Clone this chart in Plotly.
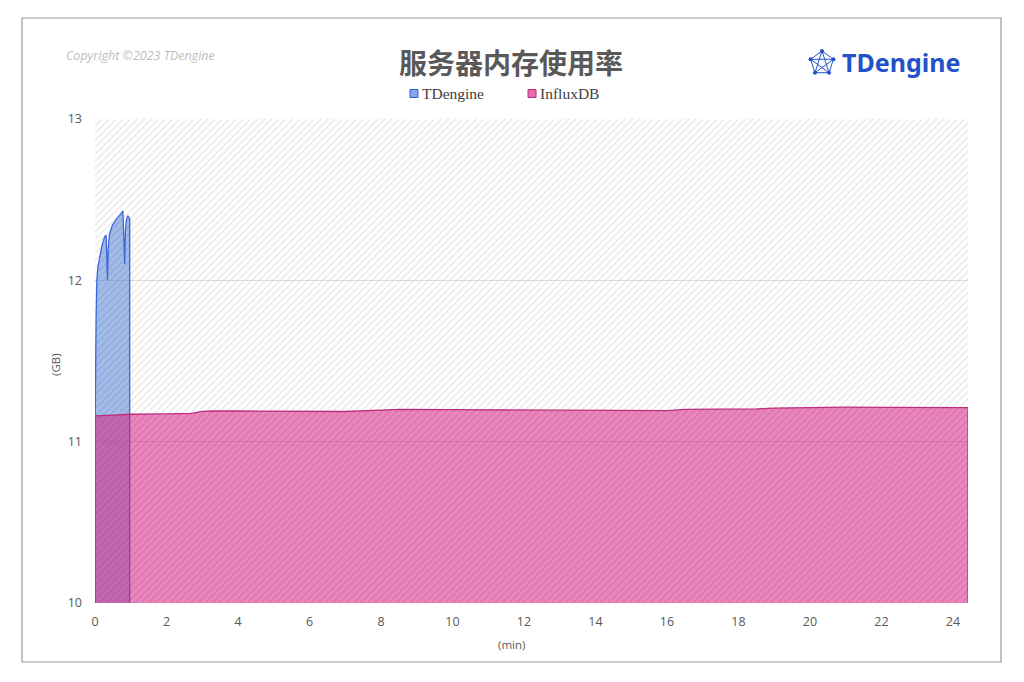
import math
import plotly.graph_objects as go

# ---------------- data ----------------
td_time = [0.00, 0.03, 0.05, 0.08, 0.14, 0.20, 0.27, 0.31, 0.33, 0.35, 0.37, 0.40,
           0.48, 0.60, 0.72, 0.78, 0.80, 0.83, 0.85, 0.88, 0.92, 0.95, 0.97]
td_mem = [11.00, 11.75, 12.00, 12.08, 12.15, 12.22, 12.27, 12.28, 12.15, 12.00, 12.20, 12.28,
          12.34, 12.38, 12.41, 12.43, 12.30, 12.10, 12.30, 12.38, 12.40, 12.39, 12.38]

ifx_time = [0.0, 0.5, 1.0, 2.0, 2.7, 3.0, 3.3, 4.0, 5.0, 6.0, 7.0, 8.0, 8.5, 10.0, 12.0,
            13.0, 14.0, 15.0, 15.5, 16.0, 16.5, 18.0, 18.5, 19.0, 20.0, 21.0, 22.0, 23.0, 24.42]
ifx_mem = [11.16, 11.165, 11.17, 11.172, 11.175, 11.188, 11.19, 11.19, 11.188, 11.185, 11.187,
           11.196, 11.20, 11.198, 11.195, 11.194, 11.195, 11.194, 11.19, 11.192, 11.20, 11.201,
           11.203, 11.208, 11.212, 11.214, 11.213, 11.212, 11.211]

x_ticks = [0, 2, 4, 6, 8, 10, 12, 14, 16, 18, 20, 22, 24]
y_ticks = [10, 11, 12, 13]
series_names = ["TDengine", "InfluxDB"]
title_text = "服务器内存使用率"
copyright_text = "Copyright ©2023 TDengine"

# ---------------- layout geometry ----------------
# page body has an 8px margin, so the figure is drawn 8px right/down
OFF = 8
W, H = 1024, 682
L, R, T, B = 95 - OFF, 968 - OFF, 119 - OFF, 603 - OFF
PW, PH = R - L, B - T
Y_MIN, Y_MAX = y_ticks[0], y_ticks[-1]
X_MAX = ifx_time[-1]


def xp(px):
    return (px - OFF - L) / PW


def yp(py):
    return (B - (py - OFF)) / PH


def closed(xs, ys, base):
    return [xs[0]] + list(xs) + [xs[-1]], [base] + list(ys) + [base]


fig = go.Figure()

# hatched plot background
fig.add_trace(go.Scatter(
    x=[0, X_MAX, X_MAX, 0, 0], y=[Y_MIN, Y_MIN, Y_MAX, Y_MAX, Y_MIN],
    mode="lines", line=dict(width=0), fill="toself",
    fillcolor="rgba(0,0,0,0)",
    fillpattern=dict(shape="/", fgcolor="#cdcdcd", bgcolor="rgba(255,255,255,0)",
                     size=5, solidity=0.25),
    hoverinfo="skip", showlegend=False))

tx, ty = closed(td_time, td_mem, Y_MIN)
fig.add_trace(go.Scatter(
    x=tx, y=ty, name=series_names[0], mode="lines",
    line=dict(color="rgb(60,105,215)", width=1.3),
    fill="toself", fillcolor="rgba(97,138,213,0.6)",
    fillpattern=dict(shape="/", fgcolor="rgba(70,110,200,0.3)", bgcolor="rgba(97,138,213,0.58)",
                     size=5, solidity=0.2),
    showlegend=False))

ix, iy = closed(ifx_time, ifx_mem, Y_MIN)
fig.add_trace(go.Scatter(
    x=ix, y=iy, name=series_names[1], mode="lines",
    line=dict(color="rgb(190,45,125)", width=1.3),
    fill="toself", fillcolor="rgba(213,30,127,0.55)",
    fillpattern=dict(shape="/", fgcolor="rgba(190,30,115,0.25)", bgcolor="rgba(215,35,130,0.55)",
                     size=5, solidity=0.2),
    showlegend=False))

tick_font = dict(family="Open Sans, Liberation Sans, sans-serif", size=12.5, color="#595959")

fig.update_layout(
    width=W, height=H,
    margin=dict(l=L, r=W - R, t=T, b=H - B, pad=0),
    paper_bgcolor="white", plot_bgcolor="white",
    showlegend=False,
    xaxis=dict(range=[0, X_MAX], tickvals=x_ticks, ticktext=[str(v) for v in x_ticks],
               showgrid=False, zeroline=False, showline=False, ticks="",
               tickfont=tick_font, ticklabelstandoff=9),
    yaxis=dict(range=[Y_MIN, Y_MAX], tickvals=y_ticks, ticktext=[str(v) for v in y_ticks],
               showgrid=True, gridcolor="#d9d9d9", gridwidth=1,
               zeroline=False, showline=False, ticks="",
               tickfont=tick_font, ticklabelstandoff=12),
)

shapes = []
# outer border
shapes.append(dict(type="rect", xref="paper", yref="paper",
                   x0=xp(22), x1=xp(1001), y0=yp(662), y1=yp(18),
                   line=dict(color="#9a9a9a", width=1.2), fillcolor="rgba(0,0,0,0)", layer="below"))

# legend squares
leg_colors = [("rgba(120,155,225,0.9)", "rgb(50,95,205)"), ("rgba(230,100,170,0.95)", "rgb(190,45,125)")]
leg_x = [410, 528]
for (fc, lc), lx in zip(leg_colors, leg_x):
    shapes.append(dict(type="rect", xref="paper", yref="paper",
                       x0=xp(lx), x1=xp(lx + 8), y0=yp(97.5), y1=yp(89.5),
                       line=dict(color=lc, width=1), fillcolor=fc))

# logo icon: pentagon network
cx, cy, rr = 822, 63, 12
verts = []
for k in range(5):
    a = math.radians(90 + 72 * k)
    verts.append((cx + rr * math.cos(a), cy - rr * math.sin(a)))
logo_blue = "#2352c8"
for i in range(5):
    for j in range(i + 1, 5):
        (x0, y0), (x1, y1) = verts[i], verts[j]
        shapes.append(dict(type="line", xref="paper", yref="paper",
                           x0=xp(x0), y0=yp(y0), x1=xp(x1), y1=yp(y1),
                           line=dict(color=logo_blue, width=1)))
for (vx, vy) in verts:
    shapes.append(dict(type="circle", xref="paper", yref="paper",
                       x0=xp(vx - 2), x1=xp(vx + 2), y0=yp(vy + 2), y1=yp(vy - 2),
                       line=dict(color=logo_blue, width=0), fillcolor=logo_blue))
fig.update_layout(shapes=shapes)

ann = []
ann.append(dict(text=title_text, x=xp(511), y=yp(62), xref="paper", yref="paper",
                showarrow=False, xanchor="center", yanchor="middle",
                font=dict(family="Noto Sans CJK SC", size=28, color="#595959", weight="bold")))
ann.append(dict(text="<i>" + copyright_text + "</i>", x=xp(64), y=yp(56), xref="paper", yref="paper",
                showarrow=False, xanchor="left", yanchor="middle",
                font=dict(family="Open Sans, sans-serif", size=12.5, color="#bdbdbd")))
ann.append(dict(text="<b>TDengine</b>", x=xp(840), y=yp(62), xref="paper", yref="paper",
                showarrow=False, xanchor="left", yanchor="middle",
                font=dict(family="Noto Sans, sans-serif", size=25, color=logo_blue)))
for name, lx in zip(series_names, leg_x):
    ann.append(dict(text=name, x=xp(lx + 10), y=yp(93), xref="paper", yref="paper",
                    showarrow=False, xanchor="left", yanchor="middle",
                    font=dict(family="Liberation Serif, serif", size=15.5, color="#404040")))
ann.append(dict(text="(GB)", x=xp(55), y=yp(365), xref="paper", yref="paper", textangle=-90,
                showarrow=False, xanchor="center", yanchor="middle",
                font=dict(family="Open Sans, sans-serif", size=11.5, color="#595959")))
ann.append(dict(text="(min)", x=xp(511), y=yp(644), xref="paper", yref="paper",
                showarrow=False, xanchor="center", yanchor="middle",
                font=dict(family="Open Sans, sans-serif", size=11.5, color="#595959")))
fig.update_layout(annotations=ann)

fig.write_html("out.html")
